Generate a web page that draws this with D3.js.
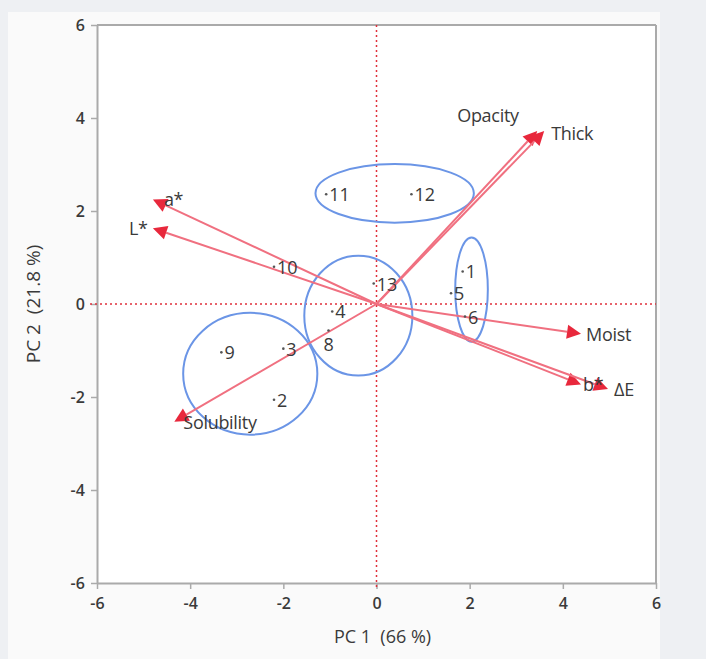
<!DOCTYPE html>
<html><head><meta charset="utf-8">
<script src="https://cdn.jsdelivr.net/npm/d3@7"></script>
<style>body{margin:0;background:#eef0f3;}svg{display:block;} text{white-space:pre;}</style>
</head><body>
<svg id="c" width="706" height="659"></svg>
<script>
// ---- data ----
const xTicks = [-6,-4,-2,0,2,4,6];
const yTicks = [-6,-4,-2,0,2,4,6];
const xTitle = "PC 1  (66 %)";
const yTitle = "PC 2  (21.8 %)";
const pointLabels = ["1","2","3","4","5","6","8","9","10","11","12","13"];
const pointPC1 = [1.85,-2.2,-2.0,-0.95,1.6,1.9,-1.03,-3.33,-2.2,-1.08,0.75,-0.06];
const pointPC2 = [0.7,-2.06,-0.96,-0.16,0.23,-0.27,-0.57,-1.04,0.8,2.36,2.36,0.44];
const loadLabels = ["Opacity","Thick","a*","L*","Moist","b*","ΔE","Solubility"];
const loadPC1 = [3.45,3.6,-4.8,-4.8,4.39,4.39,4.97,-4.34];
const loadPC2 = [3.72,3.72,2.25,1.63,-0.64,-1.73,-1.83,-2.53];
const ellCX = [0.39,2.04,-0.39,-2.71];
const ellCY = [2.38,0.31,-0.25,-1.50];
const ellRX = [1.70,0.35,1.16,1.44];
const ellRY = [0.63,1.12,1.29,1.31];

const svg = d3.select("#c");
svg.append("rect").attr("x",8).attr("y",12).attr("width",652).attr("height",647).attr("fill","#fafafa");
const x = d3.scaleLinear().domain([-6,6]).range([97,656]);
const y = d3.scaleLinear().domain([-6,6]).range([583,25]);
svg.append("rect").attr("x",97).attr("y",25).attr("width",559).attr("height",558).attr("fill","#fff");

const font = "'Open Sans','Noto Sans',sans-serif";
const txt = "#3a3a3a";
const xa = svg.append("g").attr("transform","translate(0,583)").call(d3.axisBottom(x).tickValues(xTicks).tickSize(6).tickSizeOuter(0).tickFormat(d=>d));
const ya = svg.append("g").attr("transform","translate(97,0)").call(d3.axisLeft(y).tickValues(yTicks).tickSize(6).tickSizeOuter(0).tickFormat(d=>d));
[xa,ya].forEach(g=>{
  g.select(".domain").attr("stroke","#aaa").attr("stroke-width",2);
  g.selectAll(".tick line").attr("stroke","#aaa").attr("stroke-width",1.5);
  g.selectAll(".tick text").attr("fill",txt).attr("font-family",font).attr("font-size",16).attr("font-weight",600);
});
xa.selectAll(".tick text").attr("dy","1.05em");
ya.selectAll(".tick text").attr("dx","-0.2em");
svg.append("line").attr("x1",97).attr("x2",656).attr("y1",25).attr("y2",25).attr("stroke","#aaa").attr("stroke-width",2);
svg.append("line").attr("x1",656).attr("x2",656).attr("y1",25).attr("y2",583).attr("stroke","#aaa").attr("stroke-width",2);

svg.append("text").attr("x",x(0)+6).attr("y",643).attr("text-anchor","middle").attr("fill",txt)
  .attr("font-family",font).attr("font-size",18).text(xTitle);
svg.append("text").attr("transform",`translate(40,${y(0)}) rotate(-90)`).attr("text-anchor","middle").attr("fill",txt)
  .attr("font-family",font).attr("font-size",19).text(yTitle);

svg.append("line").attr("x1",x(0)).attr("x2",x(0)).attr("y1",25).attr("y2",590).attr("stroke","#e0303c").attr("stroke-width",1.5).attr("stroke-dasharray","2,3");
svg.append("line").attr("x1",90).attr("x2",656).attr("y1",y(0)).attr("y2",y(0)).attr("stroke","#e0303c").attr("stroke-width",1.5).attr("stroke-dasharray","2,3");

svg.append("g").selectAll("ellipse").data(ellCX).join("ellipse")
  .attr("cx",(d,i)=>x(ellCX[i])).attr("cy",(d,i)=>y(ellCY[i]))
  .attr("rx",(d,i)=>x(ellRX[i])-x(0)).attr("ry",(d,i)=>y(0)-y(ellRY[i]))
  .attr("fill","none").attr("stroke","#6b95e6").attr("stroke-width",2);

const ag = svg.append("g");
loadLabels.forEach((lab,i)=>{
  const x1 = x(loadPC1[i]), y1 = y(loadPC2[i]), x0 = x(0), y0 = y(0);
  const ang = Math.atan2(y1-y0, x1-x0);
  const L = 14, W = 7;
  const bx = x1 - L*Math.cos(ang), by = y1 - L*Math.sin(ang);
  ag.append("line").attr("x1",x0).attr("y1",y0).attr("x2",bx).attr("y2",by)
    .attr("stroke","#f07080").attr("stroke-width",2);
  const px = -Math.sin(ang), py = Math.cos(ang);
  ag.append("path").attr("d",`M${x1},${y1}L${bx+W*px},${by+W*py}L${bx-W*px},${by-W*py}Z`).attr("fill","#e8283c");
});
const lOff = {"Opacity":[-80,-9],"Thick":[7,9],"a*":[11,7],"L*":[-24,7],"Moist":[5,7],"b*":[2,7],"ΔE":[6,7],"Solubility":[9,7]};
svg.append("g").selectAll("text").data(loadLabels).join("text")
  .attr("x",(d,i)=>x(loadPC1[i])+lOff[d][0]).attr("y",(d,i)=>y(loadPC2[i])+lOff[d][1])
  .attr("fill",txt).attr("font-family",font).attr("font-size",18).attr("letter-spacing",-0.3).text(d=>d);

const pg = svg.append("g");
pg.selectAll("circle").data(pointLabels).join("circle")
  .attr("cx",(d,i)=>x(pointPC1[i])).attr("cy",(d,i)=>y(pointPC2[i])).attr("r",1.3).attr("fill","#555");
pg.selectAll("text").data(pointLabels).join("text")
  .attr("x",(d,i)=>x(pointPC1[i])+(d==="8"?-5:3)).attr("y",(d,i)=>y(pointPC2[i])+(d==="8"?20:7))
  .attr("fill",txt).attr("font-family",font).attr("font-size",18).text(d=>d);
</script>
</body></html>
